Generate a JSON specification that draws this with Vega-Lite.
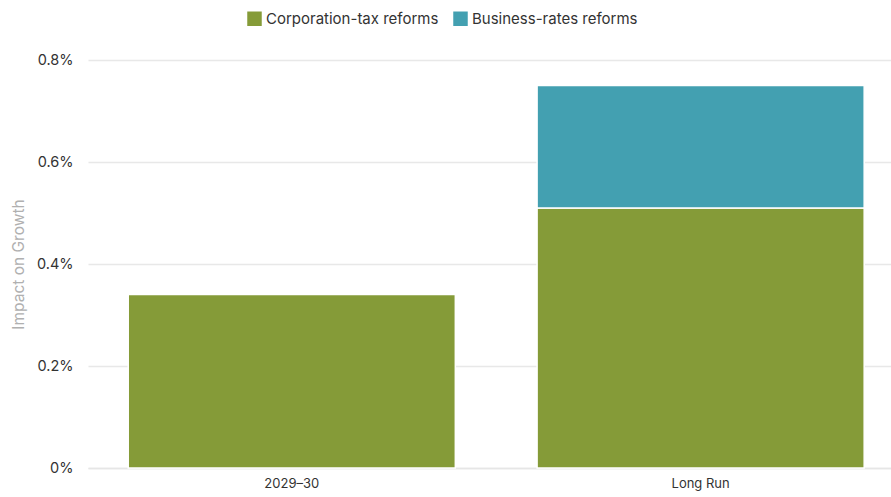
{
  "$schema": "https://vega.github.io/schema/vega-lite/v6.json",
  "width": 803,
  "height": 408,
  "autosize": {"type": "none"},
  "padding": {"left": 88, "top": 60, "right": 0, "bottom": 29},
  "background": "white",
  "config": {
    "view": {"stroke": null},
    "font": "Inter"
  },
  "data": {
    "values": [
      {"period": "2029–30", "reform": "Corporation-tax reforms", "impact": 0.0034},
      {"period": "Long Run", "reform": "Corporation-tax reforms", "impact": 0.0051},
      {"period": "Long Run", "reform": "Business-rates reforms", "impact": 0.0024}
    ]
  },
  "mark": {"type": "bar", "stroke": "white", "strokeWidth": 1.5},
  "encoding": {
    "x": {
      "field": "period",
      "type": "nominal",
      "scale": {"paddingInner": 0.2, "paddingOuter": 0.082, "align": 0.6},
      "axis": {
        "title": null,
        "labelAngle": 0,
        "labelFontSize": 13,
        "labelColor": "#333333",
        "labelPadding": 9,
        "ticks": false,
        "domain": true,
        "domainColor": "#e6e6e6",
        "domainWidth": 1.5
      }
    },
    "y": {
      "field": "impact",
      "type": "quantitative",
      "stack": "zero",
      "scale": {"domain": [0, 0.008], "nice": false},
      "axis": {
        "title": "Impact on Growth",
        "titleFontSize": 15.5,
        "titleFontWeight": "normal",
        "titleColor": "#b0b0b0",
        "titlePadding": 10,
        "values": [0, 0.002, 0.004, 0.006, 0.008],
        "format": ".1~%",
        "labelFontSize": 14.5,
        "labelColor": "#333333",
        "labelPadding": 15,
        "ticks": false,
        "domain": false,
        "gridColor": "#e8e8e8",
        "gridWidth": 1.5
      }
    },
    "color": {
      "field": "reform",
      "type": "nominal",
      "sort": ["Corporation-tax reforms", "Business-rates reforms"],
      "scale": {
        "domain": ["Corporation-tax reforms", "Business-rates reforms"],
        "range": ["#859b38", "#43a0b1"]
      },
      "legend": {
        "orient": "none",
        "legendX": 159,
        "legendY": -49,
        "direction": "horizontal",
        "title": null,
        "symbolType": "square",
        "symbolSize": 210,
        "symbolStrokeWidth": 0,
        "labelFontSize": 15,
        "labelLimit": 400,
        "labelColor": "#333333",
        "columnPadding": 14
      }
    },
    "order": {"field": "reform", "sort": "descending"}
  }
}
